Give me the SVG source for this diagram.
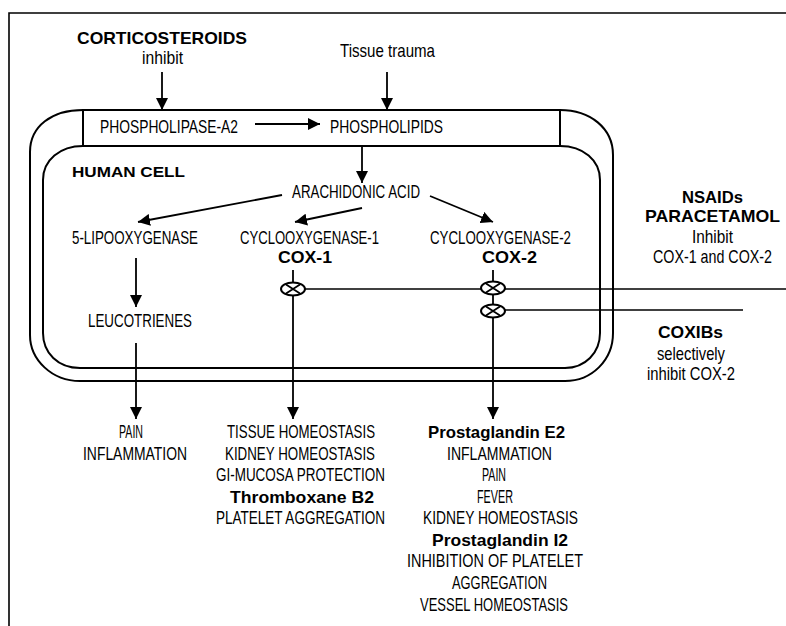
<svg xmlns="http://www.w3.org/2000/svg" width="786" height="626" viewBox="0 0 786 626">
<style>
.t{font-family:"Liberation Sans",Arial,sans-serif;font-size:18.5px;fill:#000;text-anchor:start}
.b{font-family:"Liberation Sans",Arial,sans-serif;font-size:17px;font-weight:bold;fill:#000;text-anchor:start}
.ln{stroke:#000;stroke-width:1.6;fill:none}
.mem{stroke:#000;stroke-width:2;fill:none}
.ar{stroke:#000;stroke-width:1.8;fill:none;marker-end:url(#ah)}
.inh{stroke:#000;stroke-width:2;fill:#fff}
</style>
<defs>
<marker id="ah" markerWidth="12" markerHeight="12" viewBox="0 0 12 12" refX="12" refY="6" orient="auto" markerUnits="userSpaceOnUse">
<path d="M0,0 L12,6 L0,12 Z" fill="#000"/>
</marker>
<g id="inhsym">
<ellipse cx="0" cy="0" rx="12" ry="6.5" class="inh"/>
<path d="M-7,-4.5 L7,4.5 M-7,4.5 L7,-4.5" stroke="#000" stroke-width="1.8"/>
</g>
</defs>
<rect width="786" height="626" fill="#fff"/>
<g id="frame">
<path class="ln" d="M9,626 V13 H786"/>
</g>
<g id="cell">
<path class="mem" d="M83,110 H560 C590,110 613,128 613,155 V333 C613,360 592,381 565,381 H80 C52,381 30,360 30,335 V152 C30,126 52,110 83,110 Z"/>
<path class="mem" d="M83,146 H560 C583,146 600,160 600,180 V333 C600,353 585,368 565,368 H80 C58,368 43,353 43,333 V180 C43,160 60,146 83,146 Z"/>
<path class="mem" d="M83,110 V146 M560,110 V146"/>
<text class="b" x="72" y="177" textLength="113" lengthAdjust="spacingAndGlyphs" style="font-size:15px">HUMAN CELL</text>
</g>
<g id="connectors">
<path class="ar" d="M162,72 V110"/>
<path class="ar" d="M387,72 V110"/>
<path class="ar" d="M255,124 H320"/>
<path class="ar" d="M362,146 V183"/>
<path class="ar" d="M282,195 L138,222"/>
<path class="ar" d="M362,208 L295,222"/>
<path class="ar" d="M430,196 L493,222"/>
<path class="ar" d="M136,258 V307"/>
<path class="ar" d="M136,343 V419"/>
<path class="ar" d="M293,270 V419"/>
<path class="ar" d="M493,270 V419"/>
<path class="ln" d="M305,289 H786"/>
<path class="ln" d="M505,310 H743"/>
<use href="#inhsym" x="293" y="289"/>
<use href="#inhsym" x="493" y="288"/>
<use href="#inhsym" x="493" y="311"/>
</g>
<g id="corticosteroids">
<text class="b" x="77" y="44" textLength="170" lengthAdjust="spacingAndGlyphs">CORTICOSTEROIDS</text>
<text class="t" x="142" y="64" textLength="41" lengthAdjust="spacingAndGlyphs">inhibit</text>
</g>
<g id="tissue-trauma">
<text class="t" x="340" y="57" textLength="95" lengthAdjust="spacingAndGlyphs">Tissue trauma</text>
</g>
<g id="phospholipase">
<text class="t" x="100" y="133" textLength="138" lengthAdjust="spacingAndGlyphs">PHOSPHOLIPASE-A2</text>
</g>
<g id="phospholipids">
<text class="t" x="330" y="133" textLength="113" lengthAdjust="spacingAndGlyphs">PHOSPHOLIPIDS</text>
</g>
<g id="arachidonic">
<text class="t" x="292" y="198" textLength="128" lengthAdjust="spacingAndGlyphs">ARACHIDONIC ACID</text>
</g>
<g id="lipooxygenase">
<text class="t" x="72" y="244" textLength="126" lengthAdjust="spacingAndGlyphs">5-LIPOOXYGENASE</text>
</g>
<g id="cox1">
<text class="t" x="240" y="244" textLength="139" lengthAdjust="spacingAndGlyphs">CYCLOOXYGENASE-1</text>
<text class="b" x="278" y="263" textLength="54" lengthAdjust="spacingAndGlyphs">COX-1</text>
</g>
<g id="cox2">
<text class="t" x="430" y="244" textLength="141" lengthAdjust="spacingAndGlyphs">CYCLOOXYGENASE-2</text>
<text class="b" x="482" y="263" textLength="55" lengthAdjust="spacingAndGlyphs">COX-2</text>
</g>
<g id="leucotrienes">
<text class="t" x="88" y="327" textLength="104" lengthAdjust="spacingAndGlyphs">LEUCOTRIENES</text>
</g>
<g id="nsaids">
<text class="b" x="682" y="203" textLength="61" lengthAdjust="spacingAndGlyphs">NSAIDs</text>
<text class="b" x="645" y="222" textLength="135" lengthAdjust="spacingAndGlyphs">PARACETAMOL</text>
<text class="t" x="692" y="243" textLength="41" lengthAdjust="spacingAndGlyphs">Inhibit</text>
<text class="t" x="653" y="263" textLength="119" lengthAdjust="spacingAndGlyphs">COX-1 and COX-2</text>
</g>
<g id="coxibs">
<text class="b" x="658" y="338" textLength="65" lengthAdjust="spacingAndGlyphs">COXIBs</text>
<text class="t" x="657" y="360" textLength="68" lengthAdjust="spacingAndGlyphs">selectively</text>
<text class="t" x="647" y="380" textLength="88" lengthAdjust="spacingAndGlyphs">inhibit COX-2</text>
</g>
<g id="lipo-effects">
<text class="t" x="119" y="438" textLength="24" lengthAdjust="spacingAndGlyphs">PAIN</text>
<text class="t" x="83" y="460" textLength="104" lengthAdjust="spacingAndGlyphs">INFLAMMATION</text>
</g>
<g id="cox1-effects">
<text class="t" x="227" y="438" textLength="148" lengthAdjust="spacingAndGlyphs">TISSUE HOMEOSTASIS</text>
<text class="t" x="225" y="460" textLength="150" lengthAdjust="spacingAndGlyphs">KIDNEY HOMEOSTASIS</text>
<text class="t" x="216" y="481" textLength="169" lengthAdjust="spacingAndGlyphs">GI-MUCOSA PROTECTION</text>
<text class="b" x="230" y="503" textLength="144" lengthAdjust="spacingAndGlyphs">Thromboxane B2</text>
<text class="t" x="216" y="524" textLength="169" lengthAdjust="spacingAndGlyphs">PLATELET AGGREGATION</text>
</g>
<g id="cox2-effects">
<text class="b" x="428" y="438" textLength="137" lengthAdjust="spacingAndGlyphs">Prostaglandin E2</text>
<text class="t" x="447" y="460" textLength="105" lengthAdjust="spacingAndGlyphs">INFLAMMATION</text>
<text class="t" x="482" y="481" textLength="24" lengthAdjust="spacingAndGlyphs">PAIN</text>
<text class="t" x="477" y="503" textLength="36" lengthAdjust="spacingAndGlyphs">FEVER</text>
<text class="t" x="423" y="524" textLength="155" lengthAdjust="spacingAndGlyphs">KIDNEY HOMEOSTASIS</text>
<text class="b" x="432" y="546" textLength="136" lengthAdjust="spacingAndGlyphs">Prostaglandin I2</text>
<text class="t" x="407" y="567" textLength="176" lengthAdjust="spacingAndGlyphs">INHIBITION OF PLATELET</text>
<text class="t" x="452" y="589" textLength="95" lengthAdjust="spacingAndGlyphs">AGGREGATION</text>
<text class="t" x="420" y="611" textLength="148" lengthAdjust="spacingAndGlyphs">VESSEL HOMEOSTASIS</text>
</g>
</svg>
